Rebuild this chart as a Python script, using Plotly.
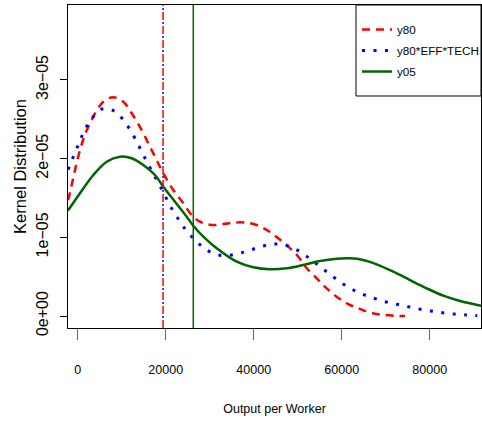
import plotly.graph_objects as go

SCALE = 1e-5

# y80 (red dashed)
y80_x = [-2205, -1980, 520, 2410, 5820, 8090, 10360, 12270, 14550, 16430, 17950, 19450,
         21730, 24000, 25910, 27800, 30450, 33090, 35360, 38020, 40680, 43320, 45590,
         47860, 50140, 52050, 54320, 56590, 58860, 61500, 63770, 66430, 69090, 71730, 74390]
y80_y = [1.474, 1.516, 2.109, 2.405, 2.723, 2.779, 2.723, 2.576, 2.363, 2.151, 1.982, 1.813,
         1.601, 1.432, 1.283, 1.198, 1.156, 1.169, 1.186, 1.188, 1.156, 1.080, 0.987,
         0.881, 0.753, 0.606, 0.479, 0.352, 0.245, 0.152, 0.098, 0.042, 0.017, 0.004, 0.0]

# y80*EFF*TECH (blue dotted)
eff_x = [-2205, 0, 1500, 3360, 5680, 8250, 10520, 12450, 14160, 15820, 17570, 19320,
         20980, 22860, 24770, 27050, 29320, 31950, 34610, 37270, 39770, 42390, 45000,
         47640, 50140, 52570, 54910, 57340, 59770, 62270, 64770, 67340, 69840, 72500,
         75140, 77640, 80230, 82860, 85520, 88180, 90820]
eff_y = [1.86, 2.156, 2.351, 2.522, 2.633, 2.607, 2.480, 2.313, 2.132, 1.948, 1.770, 1.588,
         1.402, 1.233, 1.080, 0.944, 0.839, 0.775, 0.773, 0.804, 0.848, 0.893, 0.915,
         0.893, 0.830, 0.737, 0.635, 0.530, 0.428, 0.343, 0.276, 0.225, 0.182, 0.149,
         0.118, 0.089, 0.064, 0.042, 0.025, 0.013, 0.004]

# y05 (green solid)
y05_x = [-2205, 520, 3550, 6590, 9610, 12270, 14910, 17570, 19450, 22110, 24770, 26270,
         28550, 31590, 36140, 39910, 43700, 47500, 51270, 55070, 58860, 61890, 64910,
         67950, 71730, 75520, 79320, 83090, 86890, 91660]
y05_y = [1.34, 1.559, 1.792, 1.961, 2.024, 2.004, 1.919, 1.792, 1.643, 1.452, 1.262, 1.147,
         1.008, 0.860, 0.690, 0.619, 0.593, 0.606, 0.648, 0.699, 0.728, 0.733, 0.712,
         0.657, 0.563, 0.457, 0.352, 0.258, 0.191, 0.131]

mean_y80 = 19400
mean_y05 = 26270

x_ticks = [0, 20000, 40000, 60000, 80000]
x_tick_labels = ["0", "20000", "40000", "60000", "80000"]
y_ticks = [0, 1, 2, 3]
y_tick_labels = ["0e+00", "1e\u221205", "2e\u221205", "3e\u221205"]

RED = "#FF0000"
BLUE = "#0000FF"
GREEN = "#006400"
FONT = "Liberation Sans, Arial, sans-serif"

fig = go.Figure()
fig.add_trace(go.Scatter(x=y80_x, y=[v * SCALE for v in y80_y], mode="lines", name="y80",
                         legendgroup="a",
                         line=dict(color=RED, width=2.5, dash="8px,6px", shape="spline")))
fig.add_trace(go.Scatter(x=eff_x, y=[v * SCALE for v in eff_y], mode="lines", name="y80*EFF*TECH",
                         legendgroup="b",
                         line=dict(color=BLUE, width=3, dash="3px,8.5px", shape="spline")))
fig.add_trace(go.Scatter(x=y05_x, y=[v * SCALE for v in y05_y], mode="lines", name="y05",
                         legendgroup="c",
                         line=dict(color=GREEN, width=2.5, shape="spline")))

fig.add_shape(type="line", xref="x", yref="paper", x0=mean_y80, x1=mean_y80, y0=0, y1=1,
              line=dict(color=RED, width=1.5, dash="8px,6px"))
fig.add_shape(type="line", xref="x", yref="paper", x0=mean_y80, x1=mean_y80, y0=0, y1=1,
              line=dict(color=BLUE, width=1.5, dash="0px,10px,2px,2px"))
fig.add_shape(type="line", xref="x", yref="paper", x0=mean_y05, x1=mean_y05, y0=0, y1=1,
              line=dict(color=GREEN, width=1.5))
# legend frame
fig.add_shape(type="rect", xref="paper", yref="paper", x0=0.6973, x1=1.0, y0=0.7183, y1=1.0,
              line=dict(color="black", width=1), fillcolor="white", layer="above")

fig.update_layout(
    width=482, height=423,
    margin=dict(l=68, r=1, t=5, b=95, autoexpand=False),
    paper_bgcolor="white", plot_bgcolor="white",
    font=dict(family=FONT, size=12, color="black"),
    showlegend=True,
    legend=dict(x=0.6998, y=0.969, xanchor="left", yanchor="top",
                bgcolor="rgba(0,0,0,0)", borderwidth=0,
                font=dict(size=11.7), itemwidth=30, tracegroupgap=2),
    xaxis=dict(range=[-2205, 91660], showgrid=False, zeroline=False, automargin=False,
               showline=True, mirror=True, linecolor="black", linewidth=1,
               ticks="outside", ticklen=11, tickcolor="#666", tickwidth=1,
               tickvals=x_ticks, ticktext=x_tick_labels, ticklabelstandoff=19,
               tickfont=dict(size=12.5),
               title=dict(text="Output per Worker", font=dict(size=12.5), standoff=28)),
    yaxis=dict(range=[-1.525e-6, 3.952e-5], showgrid=False, zeroline=False, automargin=False,
               showline=True, mirror=True, linecolor="black", linewidth=1,
               ticks="outside", ticklen=7, tickcolor="black", tickwidth=1,
               tickvals=[v * SCALE for v in y_ticks], ticktext=y_tick_labels,
               tickangle=-90, ticklabelstandoff=6, tickfont=dict(size=16),
               title=dict(text="Kernel Distribution", font=dict(size=16.5), standoff=2)),
)

fig.write_html("out.html", config={"displayModeBar": False},
               post_script="document.body.style.margin='0';")
